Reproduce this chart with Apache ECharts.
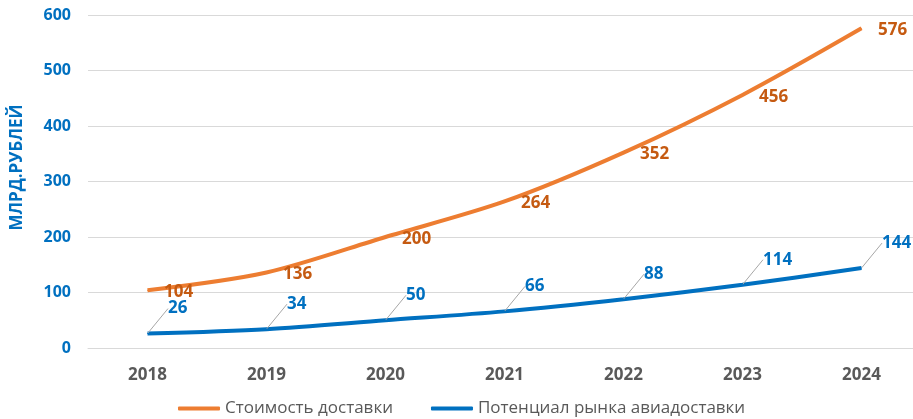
<!DOCTYPE html>
<html>
<head>
<meta charset="utf-8">
<script src="https://cdn.jsdelivr.net/npm/echarts@6/dist/echarts.min.js"></script>
<style>
html,body{margin:0;padding:0;background:#fff;}
#chart{width:913px;height:419px;}
</style>
</head>
<body>
<div id="chart"></div>
<script>
var years = ['2018','2019','2020','2021','2022','2023','2024'];
var costValues = [104, 136, 200, 264, 352, 456, 576];
var marketValues = [26, 34, 50, 66, 88, 114, 144];
var yTicks = [0, 100, 200, 300, 400, 500, 600];

var FONT = '"Open Sans", "Noto Sans", sans-serif';

var myChar = echarts.init(document.getElementById('chart'));
var myOption = {
	animation: false,
	textStyle: {fontFamily: FONT},
	grid: {
		left: 88,
		width: 833,
		top: 15,
		bottom: 71,
		outerBoundsMode: 'none'
	},
	legend: {
		bottom: -3,
		left: 173,
		icon: 'roundRect',
		itemWidth: 42,
		itemHeight: 4,
		itemGap: 38,
		textStyle: {color: '#595959', fontSize: 17, fontFamily: FONT},
		data: ['Стоимость доставки', 'Потенциал рынка авиадоставки']
	},
	xAxis: {
		type: 'category',
		data: years,
		boundaryGap: true,
		axisLine: {lineStyle: {color: '#d9d9d9'}},
		axisTick: {show: false},
		axisLabel: {
			color: '#595959',
			fontSize: 17,
			fontWeight: 'bold',
			margin: 19,
			fontFamily: FONT
		}
	},
	yAxis: {
		type: 'value',
		min: yTicks[0],
		max: yTicks[yTicks.length - 1],
		interval: 100,
		name: 'МЛРД.РУБЛЕЙ',
		nameLocation: 'middle',
		nameGap: 62,
		nameTextStyle: {
			color: '#0070C0',
			fontSize: 17,
			fontWeight: 'bold',
			fontFamily: FONT,
			padding: [0, 0, 0, 28]
		},
		axisLine: {show: false},
		axisTick: {show: false},
		splitLine: {lineStyle: {color: '#d9d9d9', width: 1}},
		axisLabel: {
			color: '#0070C0',
			fontSize: 16,
			fontWeight: 'bold',
			margin: 17,
			fontFamily: FONT
		}
	},
	series: [
		{
			name: 'Стоимость доставки',
			type: 'line',
			data: costValues,
			smooth: 0.3,
			symbol: 'circle',
			symbolSize: 1,
			lineStyle: {color: '#ED7D31', width: 4},
			itemStyle: {color: '#ED7D31'},
			label: {
				show: true,
				position: 'right',
				distance: 16,
				offset: [0, 2],
				color: '#C55A11',
				fontSize: 17,
				fontWeight: 'bold',
				fontFamily: FONT
			}
		},
		{
			name: 'Потенциал рынка авиадоставки',
			type: 'line',
			data: marketValues,
			smooth: 0.3,
			symbol: 'circle',
			symbolSize: 1,
			lineStyle: {color: '#0070C0', width: 4},
			itemStyle: {color: '#0070C0'},
			label: {
				show: true,
				position: 'right',
				distance: 20,
				color: '#0070C0',
				fontSize: 17,
				fontWeight: 'bold',
				fontFamily: FONT
			},
			labelLayout: {dy: -25},
			labelLine: {
				show: true,
				lineStyle: {color: '#a6a6a6', width: 1}
			}
		}
	]
};
myChar.setOption(myOption);
</script>
</body>
</html>
